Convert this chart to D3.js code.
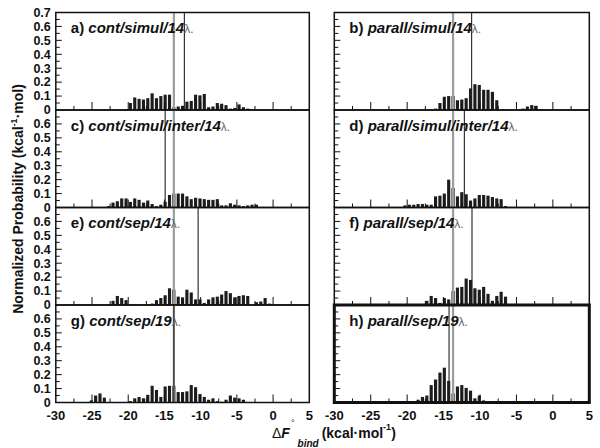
<!DOCTYPE html>
<html>
<head>
<meta charset="utf-8">
<script src="https://cdn.jsdelivr.net/npm/d3@7"></script>
<style>
  body { margin: 0; background: #fff; }
  text { font-family: "Liberation Sans", Arial, Helvetica, sans-serif; font-weight: bold; fill: #111; }
</style>
</head>
<body>
<div id="chart"></div>
<script>
// histogram bins: width and the center of bin index 0
const binWidth = 0.6;
const binOrigin = -13.7;

const panelIds = ['a', 'b', 'c', 'd', 'e', 'f', 'g', 'h'];
const panelNames = ['cont/simul/14', 'parall/simul/14', 'cont/simul/inter/14', 'parall/simul/inter/14',
                    'cont/sep/14', 'parall/sep/14', 'cont/sep/19', 'parall/sep/19'];
// index of the first bin of every panel
const firstBin = [-11, -4, -15, -11, -15, -6, -19, -9];

const probA = [0.005, 0.05, 0.09, 0.08, 0.075, 0.085, 0.12, 0.085, 0.1, 0.11, 0.11, 0.02, 0.025, 0.03, 0.06,
               0.065, 0.11, 0.105, 0.115, 0.02, 0.025, 0.05, 0.045, 0.035, 0.01, 0.015, 0.04, 0.02, 0.01];
const probB = [0.01, 0.05, 0.095, 0.1, 0.1, 0.07, 0.075, 0.085, 0.155, 0.185, 0.18, 0.145, 0.145, 0.13, 0.07,
               0, 0, 0, 0, 0, 0.01, 0.025, 0.035, 0.03];
const probC = [0.01, 0.035, 0.045, 0.065, 0.065, 0.04, 0.065, 0.055, 0.035, 0.05, 0.025, 0.01, 0.02, 0.04, 0.09,
               0.1, 0.1, 0.1, 0.08, 0.06, 0.07, 0.065, 0.06, 0.055, 0.055, 0.06, 0.015, 0.015, 0.03, 0.02,
               0.015, 0.01, 0.015, 0.02, 0.02];
const probD = [0.015, 0.02, 0.02, 0.025, 0.025, 0.02, 0.02, 0.08, 0.085, 0.1, 0.2, 0.14, 0.08, 0.11, 0.095,
               0.05, 0.065, 0.09, 0.09, 0.085, 0.075, 0.065, 0.06, 0.01];
const probE = [0.005, 0.03, 0.065, 0.05, 0.035, 0, 0, 0, 0, 0, 0.01, 0.035, 0.05, 0.07, 0.12, 0.11, 0.06, 0.055,
               0.11, 0.09, 0.04, 0.04, 0.015, 0.04, 0.055, 0.06, 0.075, 0.1, 0.085, 0.055, 0.065, 0.07, 0.065,
               0, 0.02, 0.025, 0.05, 0.01];
const probF = [0.03, 0.065, 0.05, 0.015, 0.05, 0.04, 0.1, 0.125, 0.13, 0.19, 0.18, 0.12, 0.11, 0.13, 0.08,
               0.03, 0.065, 0.095, 0.06];
const probG = [0.015, 0.05, 0.065, 0.035, 0, 0, 0, 0, 0, 0.01, 0.03, 0.04, 0.03, 0.055, 0.12, 0.09, 0.04, 0.115,
               0.12, 0.12, 0.075, 0.075, 0.08, 0.125, 0.11, 0.06, 0.04, 0.02, 0.03, 0.01, 0.005, 0.02, 0.05,
               0.035, 0.03, 0.02];
const probH = [0.01, 0.02, 0.04, 0.05, 0.125, 0.165, 0.215, 0.25, 0.155, 0.065, 0.115, 0.125, 0.105, 0.085,
               0.03, 0.05, 0.015];

const refValue = -13.7;   // gray reference line
const meanValues = [-12.25, -11.15, -14.9, -12.15, -10.35, -11.1, -13.7, -14.25];  // black lines

const xTickLabels = [-30, -25, -20, -15, -10, -5, 0, 5];
const yTickLabels = [0, 0.1, 0.2, 0.3, 0.4, 0.5, 0.6, 0.7];

const probs = [probA, probB, probC, probD, probE, probF, probG, probH];

// layout
const width = 600, height = 448;
const colRange = [[55.8, 309.3], [334.3, 589.3]];
const top0 = 12.5, rowH = 97.5;

const svg = d3.select('#chart').append('svg')
    .attr('width', width)
    .attr('height', height);

panelIds.forEach((id, i) => {
    const col = i % 2, row = Math.floor(i / 2);
    const x = d3.scaleLinear().domain([-30, 5]).range(colRange[col]);
    const y = d3.scaleLinear().domain([0, 0.7]).range([top0 + (row + 1) * rowH, top0 + row * rowH]);
    const g = svg.append('g').attr('class', 'panel-' + id);

    const bins = probs[i].map((v, j) => ({c: binOrigin + (firstBin[i] + j) * binWidth, v: v}))
        .filter(d => d.v > 0);
    const half = binWidth * 0.36;

    g.selectAll('rect.bar').data(bins).enter().append('rect')
        .attr('class', 'bar')
        .attr('x', d => x(d.c - half))
        .attr('width', d => x(d.c + half) - x(d.c - half))
        .attr('y', d => y(d.v))
        .attr('height', d => y(0) - y(d.v))
        .attr('fill', '#1c1c1c');

    // reference + mean lines
    g.append('line')
        .attr('x1', x(refValue)).attr('x2', x(refValue))
        .attr('y1', y(0)).attr('y2', y(0.7))
        .attr('stroke', '#9c9c9c').attr('stroke-width', 2.2);
    g.append('line')
        .attr('x1', x(meanValues[i])).attr('x2', x(meanValues[i]))
        .attr('y1', y(0)).attr('y2', y(0.7))
        .attr('stroke', '#222').attr('stroke-width', 1.1);

    // x ticks (inside, bottom)
    const xt = d3.range(-27.5, 5, 2.5);
    g.selectAll('line.xt').data(xt).enter().append('line')
        .attr('x1', d => x(d)).attr('x2', d => x(d))
        .attr('y1', y(0)).attr('y2', d => y(0) - (d % 5 === 0 ? 8 : 4))
        .attr('stroke', '#111').attr('stroke-width', 1);

    // y ticks (inside, left)
    const yt = d3.range(1, 14).map(k => k * 0.05);
    g.selectAll('line.yt').data(yt).enter().append('line')
        .attr('x1', x(-30)).attr('x2', (d, k) => x(-30) + (k % 2 === 1 ? 6 : 4))
        .attr('y1', d => y(d)).attr('y2', d => y(d))
        .attr('stroke', '#111').attr('stroke-width', 1);

    g.append('rect')
        .attr('x', x(-30)).attr('y', y(0.7))
        .attr('width', x(5) - x(-30)).attr('height', y(0) - y(0.7))
        .attr('fill', 'none')
        .attr('stroke', '#111')
        .attr('stroke-width', id === 'h' ? 3 : 1.5);

    // y tick labels on the left column
    if (col === 0) {
        const labs = row === 0 ? yTickLabels : yTickLabels.slice(0, 7);
        g.selectAll('text.yl').data(labs).enter().append('text')
            .attr('x', x(-30) - 5)
            .attr('y', d => y(d) + 4.3)
            .attr('text-anchor', 'end')
            .attr('font-size', 12.5)
            .text(d => d === 0 ? '0' : d3.format('.1f')(d));
    }

    // x tick labels on the bottom row
    if (row === 3) {
        g.selectAll('text.xl').data(xTickLabels).enter().append('text')
            .attr('x', d => x(d))
            .attr('y', 420)
            .attr('text-anchor', 'middle')
            .attr('font-size', 13)
            .text(d => d);
    }

    // panel title
    const t = g.append('text')
        .attr('x', x(-30) + 15)
        .attr('y', y(0.7) + 20.5)
        .attr('font-size', 15);
    t.append('tspan').text(id + ') ');
    t.append('tspan').attr('font-style', 'italic').text(panelNames[i]);
    t.append('tspan').attr('font-weight', 'normal').attr('font-size', 12).attr('fill', '#666').text('λ.');
});

// axis titles
svg.append('text')
    .attr('transform', 'translate(23,199) rotate(-90)')
    .attr('text-anchor', 'middle')
    .attr('font-size', 14)
    .call(t => {
        t.append('tspan').text('Normalized Probability (kcal');
        t.append('tspan').attr('font-size', 9).attr('dy', -6).text('-1');
        t.append('tspan').attr('dy', 6).text('·mol)');
    });

const xt = svg.append('text').attr('x', 272).attr('y', 438).attr('font-size', 14);
xt.append('tspan').attr('font-weight', 'normal').text('Δ');
xt.append('tspan').attr('font-style', 'italic').text('F');
xt.append('tspan').attr('font-weight', 'normal').attr('font-size', 9).attr('dx', 1).attr('dy', -12).text('°');
xt.append('tspan').attr('font-style', 'italic').attr('font-size', 10).attr('dx', 3).attr('dy', 21).text('bind');
xt.append('tspan').attr('dx', 3).attr('dy', -9).text('(kcal·mol');
xt.append('tspan').attr('font-size', 9).attr('dy', -8).text('-1');
xt.append('tspan').attr('dy', 8).text(')');
</script>
</body>
</html>
